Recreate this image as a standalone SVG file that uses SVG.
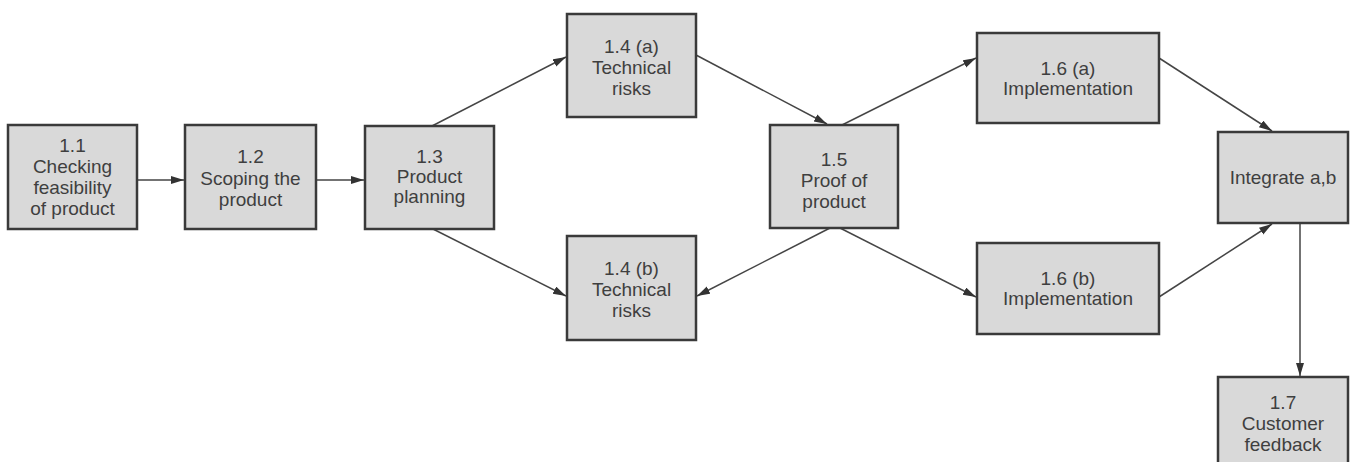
<svg xmlns="http://www.w3.org/2000/svg" width="1353" height="462" viewBox="0 0 1353 462">
<style>
.box{fill:#d9d9d9;stroke:#3a3a3a;stroke-width:2.5}
.t{font-family:"Liberation Sans",Arial,sans-serif;font-size:19px;fill:#3f3f3f;text-anchor:middle}
.c{stroke:#454545;stroke-width:1.5;fill:none;marker-end:url(#ah)}
</style>
<defs>
<marker id="ah" markerUnits="userSpaceOnUse" markerWidth="14" markerHeight="10" refX="13" refY="4" orient="auto">
<path d="M0,0 L13,4 L0,8 Z" fill="#333"/>
</marker>
</defs>
<rect width="1353" height="462" fill="#ffffff"/>
<g id="connectors">
<line class="c" x1="137" y1="180" x2="184" y2="180"/>
<line class="c" x1="316" y1="180" x2="364" y2="180"/>
<line class="c" x1="432" y1="126" x2="566" y2="57"/>
<line class="c" x1="433" y1="229" x2="566" y2="296"/>
<line class="c" x1="696" y1="55" x2="827" y2="124"/>
<line class="c" x1="842" y1="125" x2="976" y2="58"/>
<line class="c" x1="830" y1="228" x2="697" y2="296"/>
<line class="c" x1="840" y1="228" x2="976" y2="297"/>
<line class="c" x1="1159" y1="58" x2="1272" y2="131"/>
<line class="c" x1="1159" y1="297" x2="1272" y2="224"/>
<line class="c" x1="1300" y1="223" x2="1300" y2="376"/>
</g>
<g id="n11"><rect class="box" x="8" y="125" width="129" height="104"/>
<text class="t" x="72.5" y="152">1.1</text><text class="t" x="72.5" y="173">Checking</text><text class="t" x="72.5" y="194">feasibility</text><text class="t" x="72.5" y="215">of product</text></g>
<g id="n12"><rect class="box" x="185" y="125" width="131" height="104"/>
<text class="t" x="250.5" y="163">1.2</text><text class="t" x="250.5" y="185">Scoping the</text><text class="t" x="250.5" y="206">product</text></g>
<g id="n13"><rect class="box" x="365" y="126" width="129" height="103"/>
<text class="t" x="429.5" y="163">1.3</text><text class="t" x="429.5" y="183">Product</text><text class="t" x="429.5" y="203">planning</text></g>
<g id="n14a"><rect class="box" x="567" y="14" width="129" height="103"/>
<text class="t" x="631.5" y="53">1.4 (a)</text><text class="t" x="631.5" y="74">Technical</text><text class="t" x="631.5" y="95">risks</text></g>
<g id="n14b"><rect class="box" x="567" y="236" width="129" height="104"/>
<text class="t" x="631.5" y="275">1.4 (b)</text><text class="t" x="631.5" y="296">Technical</text><text class="t" x="631.5" y="317">risks</text></g>
<g id="n15"><rect class="box" x="770" y="125" width="128" height="103"/>
<text class="t" x="834" y="166">1.5</text><text class="t" x="834" y="187">Proof of</text><text class="t" x="834" y="208">product</text></g>
<g id="n16a"><rect class="box" x="977" y="33" width="182" height="90"/>
<text class="t" x="1068" y="75">1.6 (a)</text><text class="t" x="1068" y="95">Implementation</text></g>
<g id="n16b"><rect class="box" x="977" y="243" width="182" height="91"/>
<text class="t" x="1068" y="285">1.6 (b)</text><text class="t" x="1068" y="305">Implementation</text></g>
<g id="nint"><rect class="box" x="1218" y="132" width="130" height="91"/>
<text class="t" x="1283" y="184">Integrate a,b</text></g>
<g id="n17"><rect class="box" x="1218" y="377" width="130" height="104"/>
<text class="t" x="1283" y="409">1.7</text><text class="t" x="1283" y="430">Customer</text><text class="t" x="1283" y="451">feedback</text></g>
</svg>
